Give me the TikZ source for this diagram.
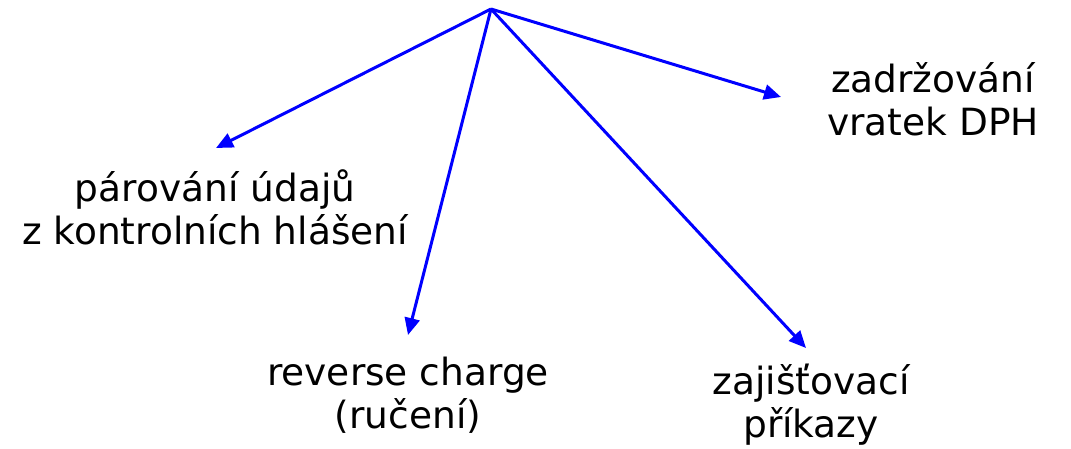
\documentclass[tikz,border=0pt]{standalone}
\usepackage{fontspec}
\setmainfont{DejaVu Sans}
\usetikzlibrary{positioning, arrows.meta}

\begin{document}
\begin{tikzpicture}[x=1pt, y=-1pt, line width=3pt,
    link/.style={draw=blue, -{Triangle[length=17pt, width=15pt]}},
    lbl/.style={align=center, font=\fontsize{37.5}{43}\selectfont, inner sep=0pt}]
        \useasboundingbox (0,0) rectangle (1071,448);

        %APEX AND ARROW ENDS
        \coordinate (top) at (491,9);
        \coordinate (endpar) at (216,148);
        \coordinate (endrev) at (408,335);
        \coordinate (endzad) at (781,97);
        \coordinate (endzaj) at (806,348);

        % LABELS
        \node[lbl] (parovani) at (215,207) {párování údajů\\z kontrolních hlášení};
        \node[lbl] (reverse) at (408,395) {reverse charge\\(ručení)};
        \node[lbl] (zadrzovani) at (933,99) {zadržování\\vratek DPH};
        \node[lbl] (zajistovaci) at (811,405) {zajišťovací\\příkazy};

        \draw[link] (top) -- (endpar);
        \draw[link] (top) -- (endrev);
        \draw[link] (top) -- (endzad);
        \draw[link] (top) -- (endzaj);

    \end{tikzpicture}
\end{document}
